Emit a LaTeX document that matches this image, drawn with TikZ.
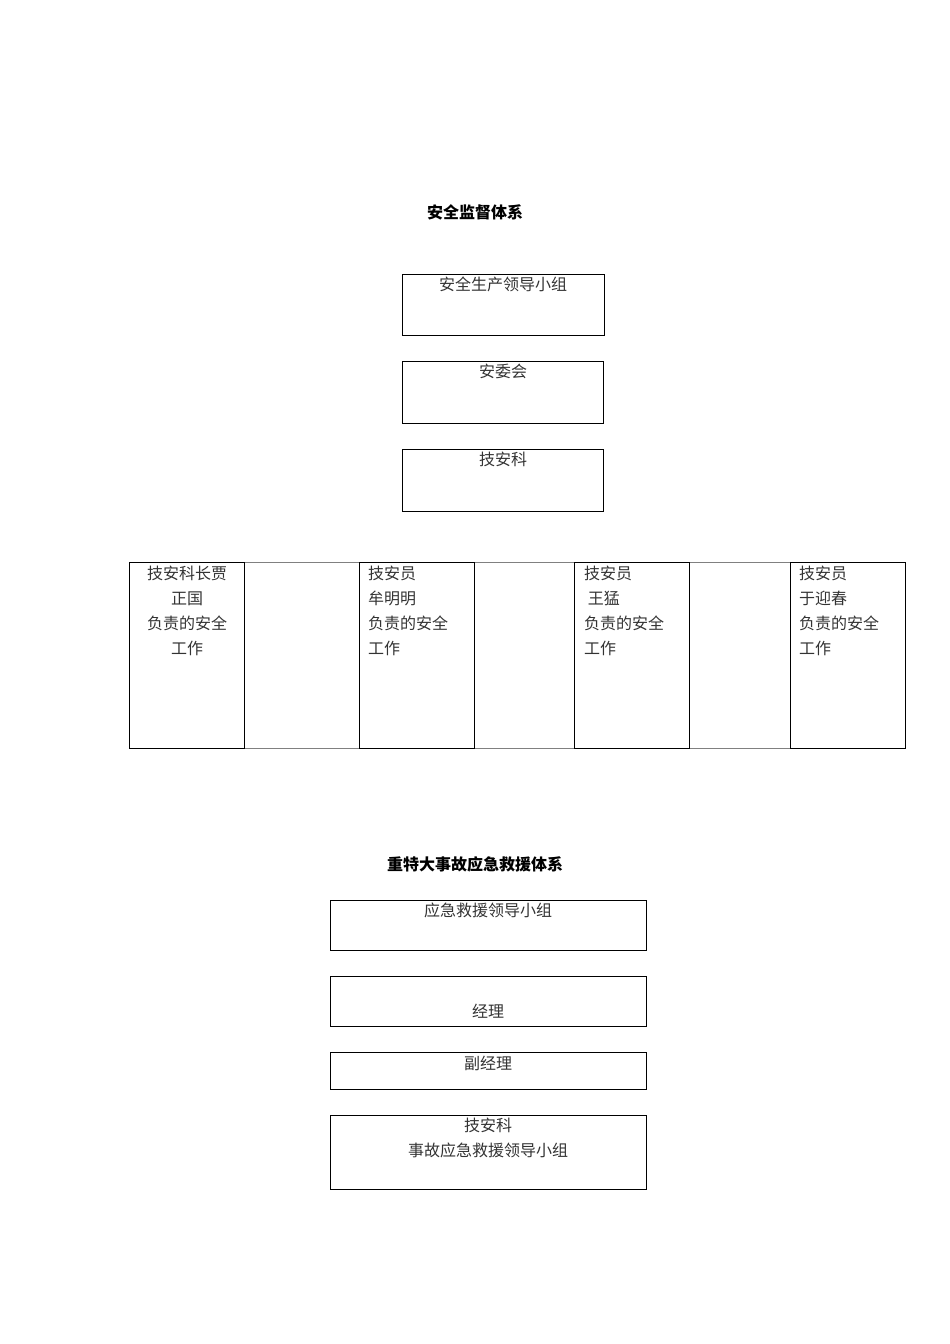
\documentclass[tikz,border=0pt]{standalone}
\usepackage{fontspec}
\setmainfont{Noto Sans CJK SC}
\begin{document}
\begin{tikzpicture}[x=1pt,y=-1pt,
 bx/.style={draw,line width=0.8pt},
 gbx/.style={draw=gray,line width=0.8pt},
 tx/.style={font=\fontsize{16}{25}\selectfont\color{black!80},inner sep=0pt,anchor=north,align=center},
 tl/.style={tx,align=left,anchor=north west},
 ttl/.style={font=\fontsize{16}{20}\selectfont\bfseries,inner sep=0pt}]
\useasboundingbox (0,0) rectangle (950,1344);
\node[ttl] (t1) at (475,212) {安全监督体系};
\draw[bx] (402,274) rectangle (604,335); \node[tx] (a) at (503,277) {安全生产领导小组};
\draw[bx] (402,361) rectangle (603,423); \node[tx] (b) at (503,364) {安委会};
\draw[bx] (402,449) rectangle (603,511); \node[tx] (c) at (503,452) {技安科};
\draw[gbx] (244,562) rectangle (359,748);
\draw[gbx] (474,562) rectangle (574,748);
\draw[gbx] (689,562) rectangle (790,748);
\draw[bx] (129,562) rectangle (244,748);
\draw[bx] (359,562) rectangle (474,748);
\draw[bx] (574,562) rectangle (689,748);
\draw[bx] (790,562) rectangle (905,748);
\node[tx] (p1) at (187,566) {技安科长贾\\正国\\负责的安全\\工作};
\node[tl] (p2) at (368,566) {技安员\\牟明明\\负责的安全\\工作};
\node[tl] (p3) at (584,566) {技安员\\\ 王猛\\负责的安全\\工作};
\node[tl] (p4) at (799,566) {技安员\\于迎春\\负责的安全\\工作};
\node[ttl] (t2) at (475,864) {重特大事故应急救援体系};
\draw[bx] (330,900) rectangle (646,950); \node[tx] (d) at (488,903) {应急救援领导小组};
\draw[bx] (330,976) rectangle (646,1026); \node[tx] (e) at (488,1004) {经理};
\draw[bx] (330,1052) rectangle (646,1089); \node[tx] (f) at (488,1056) {副经理};
\draw[bx] (330,1115) rectangle (646,1189); \node[tx] (g) at (488,1118) {技安科\\事故应急救援领导小组};
\end{tikzpicture}
\end{document}
